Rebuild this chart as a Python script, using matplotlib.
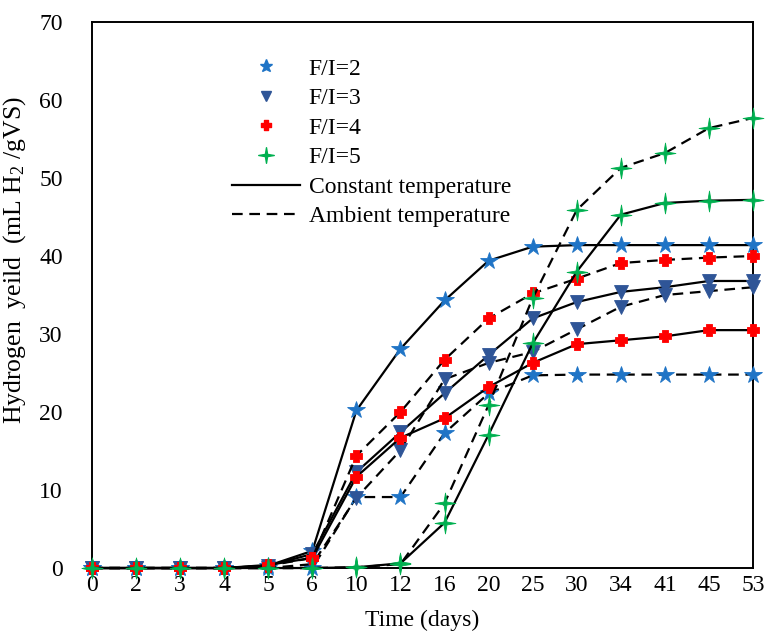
"""Cumulative hydrogen yield at four F/I ratios, constant vs ambient temperature."""

import matplotlib
matplotlib.use("Agg")
import matplotlib.pyplot as plt
from matplotlib.lines import Line2D
from matplotlib.path import Path
import numpy as np

plt.rcParams.update({
    "font.family": "Liberation Serif",
    "font.size": 17,
    "mathtext.fontset": "custom",
    "mathtext.rm": "Liberation Serif",
    "mathtext.it": "Liberation Serif:italic",
})

DAYS = ["0", "2", "3", "4", "5", "6", "10", "12", "16", "20", "25", "30", "34", "41", "45", "53"]

FI2_CONST = [0, 0, 0, 0, 0.3, 2.2, 20.2, 28.1, 34.3, 39.4, 41.2, 41.4, 41.4, 41.4, 41.4, 41.4]
FI2_AMB   = [0, 0, 0, 0, 0, 0, 9.1, 9.1, 17.3, 22.4, 24.7, 24.8, 24.8, 24.8, 24.8, 24.8]
FI3_CONST = [0, 0, 0, 0, 0.3, 1.8, 12.3, 17.4, 22.4, 27.3, 32.0, 34.1, 35.4, 36.0, 36.8, 36.8]
FI3_AMB   = [0, 0, 0, 0, 0, 0.5, 9.0, 15.1, 24.2, 26.3, 27.7, 30.6, 33.5, 35.0, 35.5, 36.0]
FI4_CONST = [0, 0, 0, 0, 0.4, 1.3, 11.7, 16.7, 19.2, 23.2, 26.3, 28.7, 29.2, 29.7, 30.5, 30.5]
FI4_AMB   = [0, 0, 0, 0, 0.3, 1.3, 14.4, 20.0, 26.7, 32.0, 35.2, 37.1, 39.1, 39.5, 39.8, 40.0]
FI5_CONST = [0, 0, 0, 0, 0, 0, 0.1, 0.6, 5.8, 17.1, 28.8, 38.0, 45.3, 46.8, 47.1, 47.2]
FI5_AMB   = [0, 0, 0, 0, 0, 0, 0.1, 0.5, 8.3, 20.9, 34.6, 45.9, 51.3, 53.2, 56.4, 57.7]

LABELS = ["F/I=2", "F/I=3", "F/I=4", "F/I=5"]


def _star4(inner=0.2):
    # thin four-pointed sparkle
    verts = []
    for k in range(8):
        ang = np.pi / 2 + k * np.pi / 4
        r = 1.0 if k % 2 == 0 else inner
        verts.append((r * np.cos(ang), r * np.sin(ang)))
    verts.append(verts[0])
    return Path(verts, closed=True)


def _fat_plus(a=0.5):
    verts = [(-a, 1), (a, 1), (a, a), (1, a), (1, -a), (a, -a), (a, -1),
             (-a, -1), (-a, -a), (-1, -a), (-1, a), (-a, a), (-a, 1)]
    return Path(verts, closed=True)


MARKERS = {
    "F/I=2": dict(marker="*", color="#1F74C6", ms=13),
    "F/I=3": dict(marker="v", color="#2F5597", ms=9.5),
    "F/I=4": dict(marker=_fat_plus(), color="#FF0000", ms=9),
    "F/I=5": dict(marker=_star4(), color="#00B050", ms=15),
}

SERIES = [
    ("F/I=2", FI2_CONST, "-"), ("F/I=2", FI2_AMB, "--"),
    ("F/I=3", FI3_CONST, "-"), ("F/I=3", FI3_AMB, "--"),
    ("F/I=4", FI4_CONST, "-"), ("F/I=4", FI4_AMB, "--"),
    ("F/I=5", FI5_CONST, "-"), ("F/I=5", FI5_AMB, "--"),
]
DASH = (0, (4.8, 3.0))

fig = plt.figure(figsize=(7.68, 6.31), dpi=100)
ax = fig.add_axes([0.1198, 0.0998, 0.8607, 0.8653])

x = np.arange(len(DAYS))
for name, vals, ls in SERIES:
    m = MARKERS[name]
    ax.plot(x, vals, color="black", lw=1.6,
            linestyle="-" if ls == "-" else DASH,
            marker=m["marker"], ms=m["ms"], mfc=m["color"], mec=m["color"],
            mew=0.6, clip_on=False, zorder=3)

ax.set_xlim(0, len(DAYS) - 1)
ax.set_ylim(0, 70)
ax.set_xticks(x)
ax.set_xticklabels(DAYS)
ax.set_yticks(range(0, 71, 10))
ax.tick_params(axis="both", length=0)
ax.tick_params(axis="x", pad=5)
ax.tick_params(axis="y", pad=21)
for sp in ax.spines.values():
    sp.set_linewidth(1.4)
    sp.set_color("black")

ax.set_xlabel("Time (days)")
ax.xaxis.set_label_coords(0.5, -0.076)
ax.set_ylabel("Hydrogen  yeild  (mL H$_2$ /gVS)", fontsize=18.5)
ax.yaxis.set_label_coords(-0.097, 0.564)

handles = []
for name in LABELS:
    m = MARKERS[name]
    handles.append(Line2D([], [], linestyle="none", marker=m["marker"],
                          ms=m["ms"] * 0.75, mfc=m["color"], mec=m["color"]))
handles.append(Line2D([], [], color="black", lw=1.6, linestyle="-"))
handles.append(Line2D([], [], color="black", lw=1.6, linestyle=DASH))
fig.legend(handles, LABELS + ["Constant temperature", "Ambient temperature"],
           loc="upper left", bbox_to_anchor=(0.302, 0.908), frameon=False,
           borderpad=0, borderaxespad=0, handlelength=2.9, handletextpad=0.35,
           labelspacing=0.34, fontsize=17)

fig.savefig("out.png", dpi=100)
